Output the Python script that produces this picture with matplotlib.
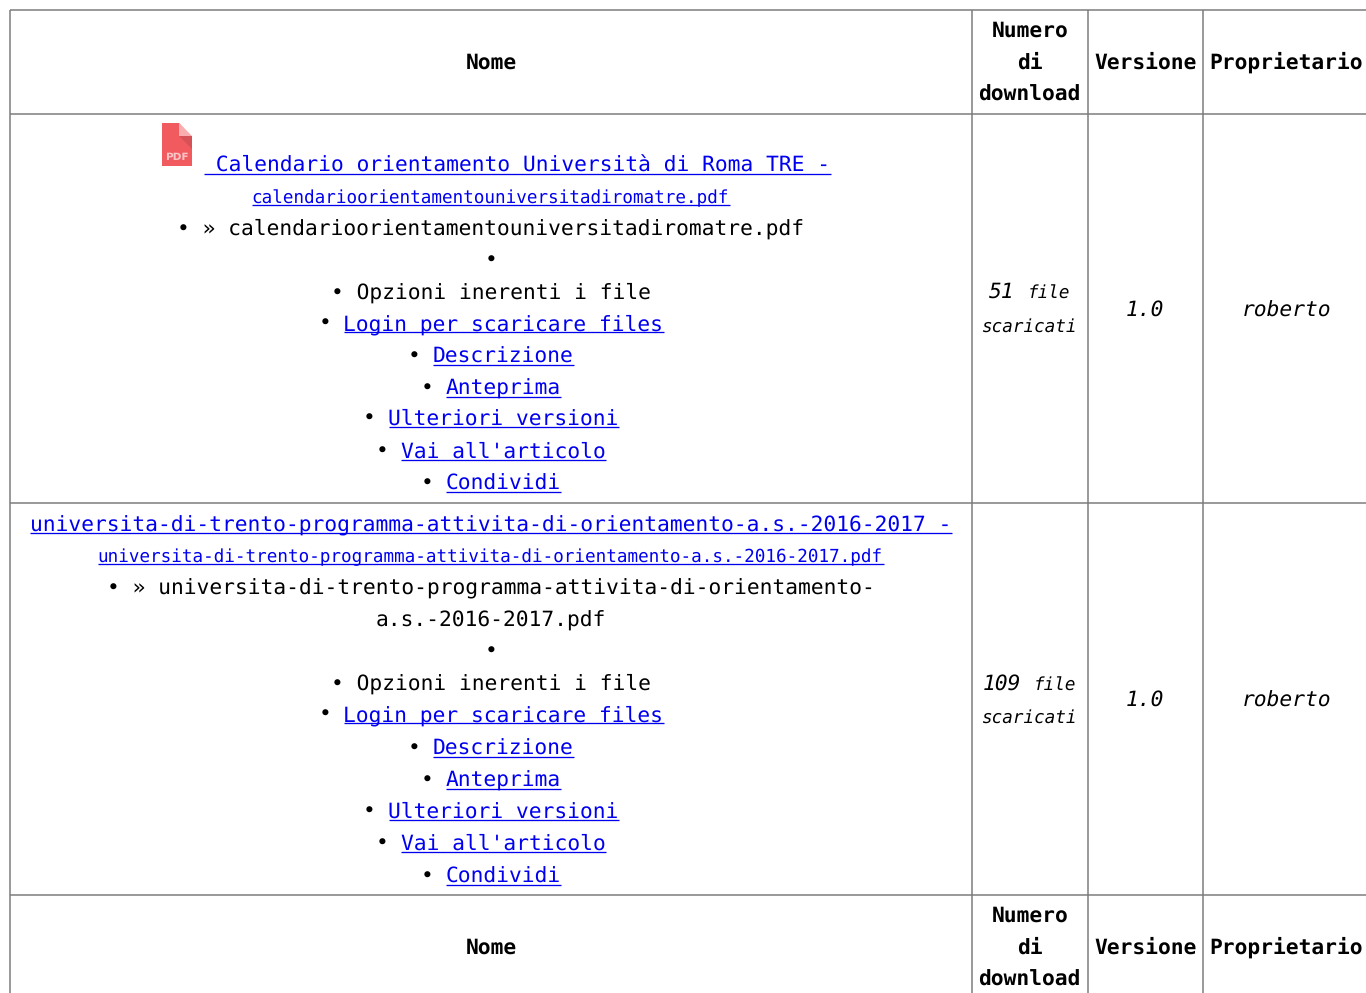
import matplotlib
matplotlib.use("Agg")
import matplotlib.pyplot as plt
from matplotlib.patches import Polygon

plt.rcParams["text.hinting"] = "no_hinting"
plt.rcParams["text.hinting_factor"] = 8

# ---- content ----
headers = ["Nome", ["Numero", "di", "download"], "Versione", "Proprietario"]
titles = ["Calendario orientamento Università di Roma TRE -",
          "universita-di-trento-programma-attivita-di-orientamento-a.s.-2016-2017 -"]
filenames = ["calendarioorientamentouniversitadiromatre.pdf",
             "universita-di-trento-programma-attivita-di-orientamento-a.s.-2016-2017.pdf"]
file_lines = [["calendarioorientamentouniversitadiromatre.pdf"],
              ["universita-di-trento-programma-attivita-di-orientamento-", "a.s.-2016-2017.pdf"]]
menu_links = ["Login per scaricare files", "Descrizione", "Anteprima",
              "Ulteriori versioni", "Vai all'articolo", "Condividi"]
options_label = "Opzioni inerenti i file"
downloads = [51, 109]
versions = ["1.0", "1.0"]
owners = ["roberto", "roberto"]

# ---- layout (pixels) ----
W, H = 1366, 993
FONT = "DejaVu Sans Mono"
BIG, SMALL = 21.33, 17.6      # px
CW_B, CW_S = 12.8, 10.62
LINK, GRID = "#0000EE", "#7A7A7A"
col_x = [10, 972, 1088, 1203]
row_y = [10, 114, 503, 895]
cx = [491, 1029.7, 1145.2, 1286.5]
pt = 72 / 100

fig = plt.figure(figsize=(W / 100, H / 100), dpi=100, facecolor="white")
ax = fig.add_axes([0, 0, 1, 1])
ax.set_xlim(0, W)
ax.set_ylim(H, 0)
ax.axis("off")


def text(x, y, s, px=BIG, ha="center", color="black", **kw):
    ax.text(x, y, s, fontsize=px * pt, family=FONT, ha=ha, va="baseline", color=color, **kw)


def link(x0, y, s, px=BIG, cw=CW_B):
    text(x0 - 0.6, y, s, px=px, ha="left", color=LINK)
    ax.plot([x0, x0 + cw * len(s)], [y + 2, y + 2], color=LINK, lw=1.3 * pt,
            solid_capstyle="butt")


def centered_link(y, s, px=BIG, cw=CW_B):
    link(cx[0] - cw * len(s) / 2, y, s, px, cw)


def bullet_plain(y, s):
    text(cx[0], y, "• " + s if s else "•")


def bullet_link(y, s):
    start = cx[0] - CW_B * (len(s) + 2) / 2
    text(start, y, "•", ha="left")
    link(start + 2 * CW_B, y, s)


# grid
for y in row_y:
    ax.plot([col_x[0], W], [y, y], color=GRID, lw=1.5 * pt, solid_capstyle="butt")
for x in col_x:
    ax.plot([x, x], [row_y[0], H], color=GRID, lw=1.5 * pt, solid_capstyle="butt")


def header(ys):
    mid = ys[1]
    text(cx[0], mid, headers[0], weight="bold")
    for y, s in zip(ys, headers[1]):
        text(cx[1], y, s, weight="bold")
    text(cx[2], mid, headers[2], weight="bold")
    text(cx[3], mid, headers[3], weight="bold")


header([37, 69, 101])
header([922, 954, 986])

# PDF icon
ax.add_patch(Polygon([(162, 123), (179, 123), (192, 137), (192, 166), (162, 166)],
                     closed=True, fc="#F15B5F", ec="none"))
ax.add_patch(Polygon([(179, 136), (192, 136), (192, 149)], closed=True, fc="#D65256", ec="none"))
ax.add_patch(Polygon([(179, 123), (192, 136), (179, 136)], closed=True, fc="#F9ADAF", ec="none"))
ax.text(177, 160, "PDF", fontsize=10.5 * pt, family="DejaVu Sans", weight="bold",
        ha="center", va="baseline", color="#FBC4C6")

# row 1
link(204, 172, " " + titles[0])
centered_link(203, filenames[0], SMALL, CW_S)
bullet_plain(235, "» " + file_lines[0][0])
bullet_plain(267, "")
bullet_plain(299, options_label)
for y, s in zip([330, 363, 395, 425, 458, 490], menu_links):
    bullet_link(y, s)

# row 2
centered_link(531, titles[1])
centered_link(562, filenames[1], SMALL, CW_S)
text(cx[0], 594, "• » " + file_lines[1][0])
text(cx[0], 627, file_lines[1][1])
bullet_plain(658, "")
bullet_plain(690, options_label)
for y, s in zip([721, 755, 787, 818, 850, 883], menu_links):
    bullet_link(y, s)

# italic columns
for n, y1, y2 in zip(downloads, [298, 690], [332, 723]):
    s = str(n)
    total = CW_B * (len(s) + 1) + CW_S * 4
    x0 = cx[1] - total / 2
    text(x0, y1, s, ha="left", style="italic")
    text(x0 + CW_B * (len(s) + 1), y1 + 1, "file", px=SMALL, ha="left", style="italic")
    text(cx[1] - 0.5, y2, "scaricati", px=SMALL, style="italic")
for v, o, y in zip(versions, owners, [316, 706]):
    text(cx[2], y, v, style="italic")
    text(cx[3], y + 1, o, style="italic")

fig.savefig("out.png", dpi=100, facecolor="white")
